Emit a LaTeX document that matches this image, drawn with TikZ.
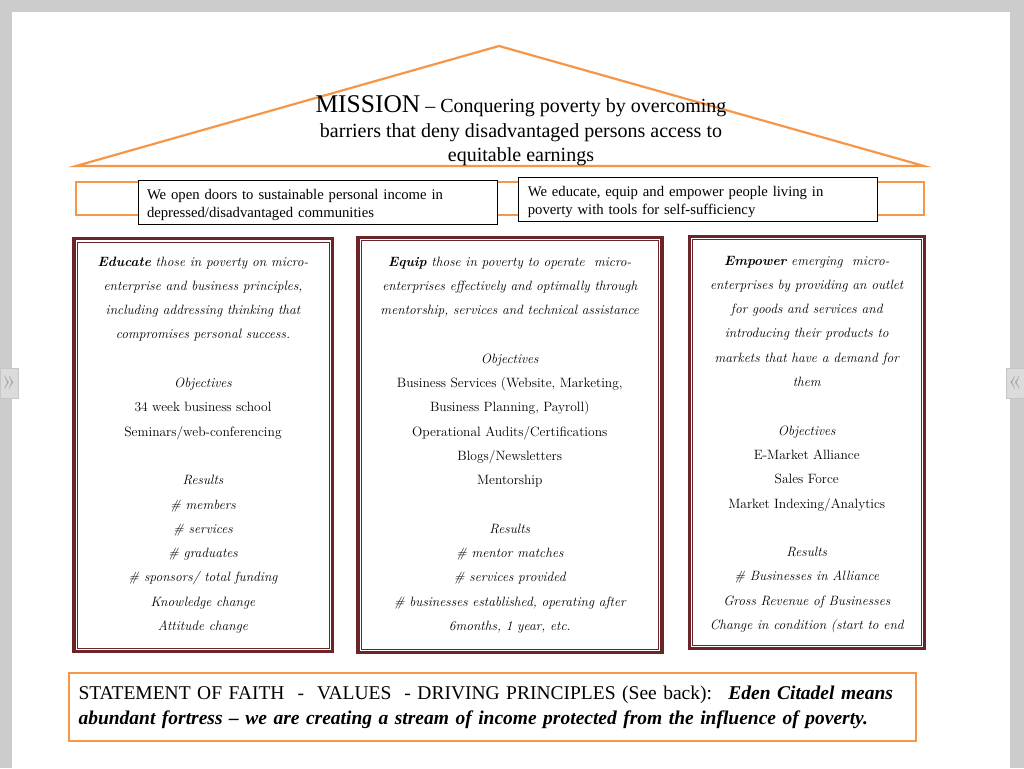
\documentclass[tikz,border=0pt]{standalone}
\usepackage{fontspec}
\newfontfamily\timesfont{Liberation Serif}
\usetikzlibrary{positioning}
\definecolor{roofOrange}{HTML}{F79646}
\definecolor{pillarRed}{HTML}{6B2427}
\definecolor{pageGray}{HTML}{CCCCCC}

\begin{document}
\begin{tikzpicture}[
    x=1pt, y=1pt,
    pillar/.style={
        draw=pillarRed, line width=3.5pt, fill=white,
        align=center, inner sep=0pt,
        font=\fontsize{13.5}{24.3}\selectfont\itshape
    },
    banner/.style={
        draw=black, fill=white, line width=0.8pt,
        align=left, inner xsep=9pt,
        text width=341pt, minimum height=44pt,
        font=\timesfont\fontsize{14.7}{18}\selectfont
    },
    pager/.style={
        draw=gray!45, fill=pageGray!70, text=gray!75,
        minimum width=18pt, minimum height=30pt, inner sep=0pt,
        font=\fontsize{28}{28}\selectfont
    }
]
\useasboundingbox (0,0) rectangle (1024,768);
\fill[pageGray] (0,0) rectangle (1024,768);
\fill[white] (12,0) rectangle (1010,756);

% viewer arrows
\node[pager] (prevpage) at (9,385) {»};
\node[pager] (nextpage) at (1015,385) {«};

% Roof
\coordinate (roofL) at (76,602);
\coordinate (roofTop) at (499,722);
\coordinate (roofR) at (924,602);
\draw[roofOrange, line width=2.2pt, line join=miter] (roofL) -- (roofTop) -- (roofR) -- cycle;

\node[align=center, font=\timesfont\fontsize{20}{24.5}\selectfont] (mission) at (521,637) {
    {\fontsize{25.5}{24.5}\selectfont MISSION} – Conquering poverty by overcoming\\
    barriers that deny disadvantaged persons access to\\
    equitable earnings
};

% Beam
\draw[roofOrange, line width=2.2pt] (76,586) rectangle (924,553);

\node[banner] (doors) at (317.5,566) {
    \rule{0pt}{16pt}We open doors to sustainable personal income in\\
    depressed/disadvantaged communities
};
\node[banner, right=21pt of doors, yshift=3pt] (tools) {
    \rule{0pt}{16pt}We educate, equip and empower people living in\\
    poverty with tools for self-sufficiency
};

% Pillars
\node[pillar, minimum width=258.5pt, minimum height=412.5pt] (educate) at (203,323) {
    \textbf{Educate} those in poverty on micro-\\
    enterprise and business principles,\\
    including addressing thinking that\\
    compromises personal success.\\[24.3pt]
    Objectives\\
    {\upshape 34 week business school}\\
    {\upshape Seminars/web-conferencing}\\[24.3pt]
    Results\\
    \# members\\
    \# services\\
    \# graduates\\
    \# sponsors/ total funding\\
    Knowledge change\\
    Attitude change
};

\node[pillar, minimum width=304pt, minimum height=415pt, right=22pt of educate] (equip) {
    \textbf{Equip} those in poverty to operate~ micro-\\
    enterprises effectively and optimally through\\
    mentorship, services and technical assistance\\[24.3pt]
    Objectives\\
    {\upshape Business Services (Website, Marketing,}\\
    {\upshape Business Planning, Payroll)}\\
    {\upshape Operational Audits/Certifications}\\
    {\upshape Blogs/Newsletters}\\
    {\upshape Mentorship}\\[24.3pt]
    Results\\
    \# mentor matches\\
    \# services provided\\
    \# businesses established, operating after\\
    6months, 1 year, etc.
};

\node[pillar, minimum width=235pt, minimum height=412pt, right=24pt of equip, yshift=2.5pt] (empower) {
    \rule{0pt}{13pt}\textbf{Empower} emerging~ micro-\\
    enterprises by providing an outlet\\
    for goods and services and\\
    introducing their products to\\
    markets that have a demand for\\
    them\\[24.3pt]
    Objectives\\
    {\upshape E-Market Alliance}\\
    {\upshape Sales Force}\\
    {\upshape Market Indexing/Analytics}\\[24.3pt]
    Results\\
    \# Businesses in Alliance\\
    Gross Revenue of Businesses\\
    Change in condition (start to end
};

\foreach \p in {educate, equip, empower}
    \draw[pillarRed, line width=0.8pt] ([shift={(5,-5)}]\p.north west) rectangle ([shift={(-5,5)}]\p.south east);

% Foundation
\node[draw=roofOrange, line width=2pt, fill=white, align=left,
      text width=827pt, inner xsep=10pt, minimum height=68pt,
      font=\timesfont\fontsize{19.5}{25}\selectfont] (faith) at (492,61) {
    STATEMENT OF FAITH ~-~ VALUES ~- DRIVING PRINCIPLES (See back): ~\textbf{\textit{Eden Citadel means}}\\
    \textbf{\textit{abundant fortress – we are creating a stream of income protected from the influence of poverty.}}
};

\end{tikzpicture}
\end{document}
